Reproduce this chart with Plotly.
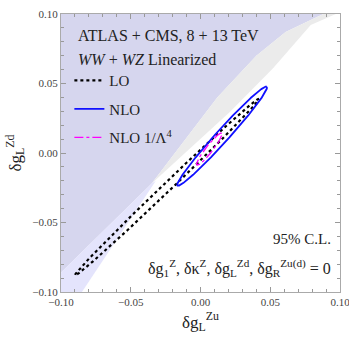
import numpy as np
import plotly.graph_objects as go

# ---- data ----
# boundary between dark lavender region and the lighter areas
dark_edge_x = [-0.100, -0.035, 0.012, 0.040, 0.061, 0.088]
dark_edge_y = [-0.086, -0.022, 0.040, 0.070, 0.087, 0.100]
# boundary of the grey band towards the white (allowed) region
white_edge_x = [-0.035, 0.021, 0.052, 0.079, 0.097]
white_edge_y = [-0.022, 0.0295, 0.061, 0.092, 0.100]
# light blue band in the lower-left corner
blue_edge_x = [-0.085, -0.032]
blue_edge_y = [-0.100, -0.020]

# ellipses: centre x, centre y, semi-major, semi-minor, angle (deg)
contour_names = ["LO", "NLO", "NLO 1/Λ<sup>4</sup>"]
centre_x = [-0.024, 0.0155, 0.0063]
centre_y = [-0.0245, 0.0121, 0.0028]
semi_major = [0.0916, 0.0479, 0.0145]
semi_minor = [0.0030, 0.0045, 0.0025]
angle_deg = [43.9, 48.0, 52.0]
line_colors = ["black", "#1010ff", "#ff00ff"]
line_dash = ["dot", "solid", "dashdot"]
line_width = [2.2, 1.8, 1.3]

tick_vals = [-0.10, -0.05, 0.00, 0.05, 0.10]
tick_text = ["\u22120.10", "\u22120.05", "0.00", "0.05", "0.10"]

fig = go.Figure()

# dark lavender region
fig.add_trace(go.Scatter(
    x=dark_edge_x + [-0.100],
    y=dark_edge_y + [0.100],
    fill="toself", fillcolor="#d6d6ee", line=dict(width=0), mode="lines",
    showlegend=False, hoverinfo="skip"))
# grey band
fig.add_trace(go.Scatter(
    x=dark_edge_x[1:] + white_edge_x[::-1],
    y=dark_edge_y[1:] + white_edge_y[::-1],
    fill="toself", fillcolor="#ebebeb", line=dict(width=0), mode="lines",
    showlegend=False, hoverinfo="skip"))
# light blue band
fig.add_trace(go.Scatter(
    x=[dark_edge_x[0], dark_edge_x[1], blue_edge_x[1], blue_edge_x[0], -0.100],
    y=[dark_edge_y[0], dark_edge_y[1], blue_edge_y[1], blue_edge_y[0], -0.100],
    fill="toself", fillcolor="#e4e4fc", line=dict(width=0), mode="lines",
    showlegend=False, hoverinfo="skip"))

t = np.linspace(0, 2 * np.pi, 400)
for i, name in enumerate(contour_names):
    th = np.deg2rad(angle_deg[i])
    u = semi_major[i] * np.cos(t)
    v = semi_minor[i] * np.sin(t)
    ex = centre_x[i] + u * np.cos(th) - v * np.sin(th)
    ey = centre_y[i] + u * np.sin(th) + v * np.cos(th)
    fig.add_trace(go.Scatter(
        x=ex, y=ey, mode="lines", name=name, legendgroup=str(i),
        line=dict(color=line_colors[i], dash=line_dash[i], width=line_width[i])))

serif = "Liberation Serif"
axis_common = dict(
    range=[-0.10, 0.10], tickvals=tick_vals, ticktext=tick_text,
    ticks="inside", ticklen=5, tickcolor="#999999", tickwidth=1,
    showline=True, linecolor="#aaaaaa", linewidth=1, mirror="ticks",
    showgrid=False, zeroline=False, ticklabeloverflow="allow", automargin=False,
    minor=dict(dtick=0.01, ticks="inside", ticklen=3, tickcolor="#999999", showgrid=False),
    tickfont=dict(family=serif, size=11, color="#444444"),
)

fig.update_layout(
    width=349, height=339,
    margin=dict(l=61, r=9, t=14, b=47),
    paper_bgcolor="white", plot_bgcolor="white",
    xaxis=dict(**axis_common,
               title=dict(text="δg<sub>L</sub><sup>Zu</sup>", font=dict(family=serif, size=17, color="#222"),
                          standoff=8)),
    yaxis=dict(**axis_common,
               title=dict(text="δg<sub>L</sub><sup>Zd</sup>", font=dict(family=serif, size=17, color="#222"),
                          standoff=6)),
    showlegend=True,
    legend=dict(x=0.03, y=0.82, xanchor="left", yanchor="top", bgcolor="rgba(0,0,0,0)",
                font=dict(family=serif, size=15, color="#222"), tracegroupgap=6),
    font=dict(family=serif),
)

fig.add_annotation(x=0.055, y=0.921, xref="paper", yref="paper", xanchor="left", yanchor="middle",
                   text="ATLAS + CMS, 8 + 13 TeV", showarrow=False,
                   font=dict(family=serif, size=16, color="#222"))
fig.add_annotation(x=0.055, y=0.838, xref="paper", yref="paper", xanchor="left", yanchor="middle",
                   text="<i>WW</i> + <i>WZ</i> Linearized", showarrow=False,
                   font=dict(family=serif, size=16, color="#222"))
fig.add_annotation(x=0.975, y=0.19, xref="paper", yref="paper", xanchor="right", yanchor="middle",
                   text="95% C.L.", showarrow=False,
                   font=dict(family=serif, size=15, color="#222"))
fig.add_annotation(x=0.975, y=0.085, xref="paper", yref="paper", xanchor="right", yanchor="middle",
                   text="δg<sub>1</sub><sup>Z</sup>, δκ<sup>Z</sup>, δg<sub>L</sub><sup>Zd</sup>, δg<sub>R</sub><sup>Zu(d)</sup> = 0",
                   showarrow=False, font=dict(family=serif, size=16, color="#222"))

fig.write_html("out.html", config={"displayModeBar": False},
               post_script="document.body.style.margin='0';")
